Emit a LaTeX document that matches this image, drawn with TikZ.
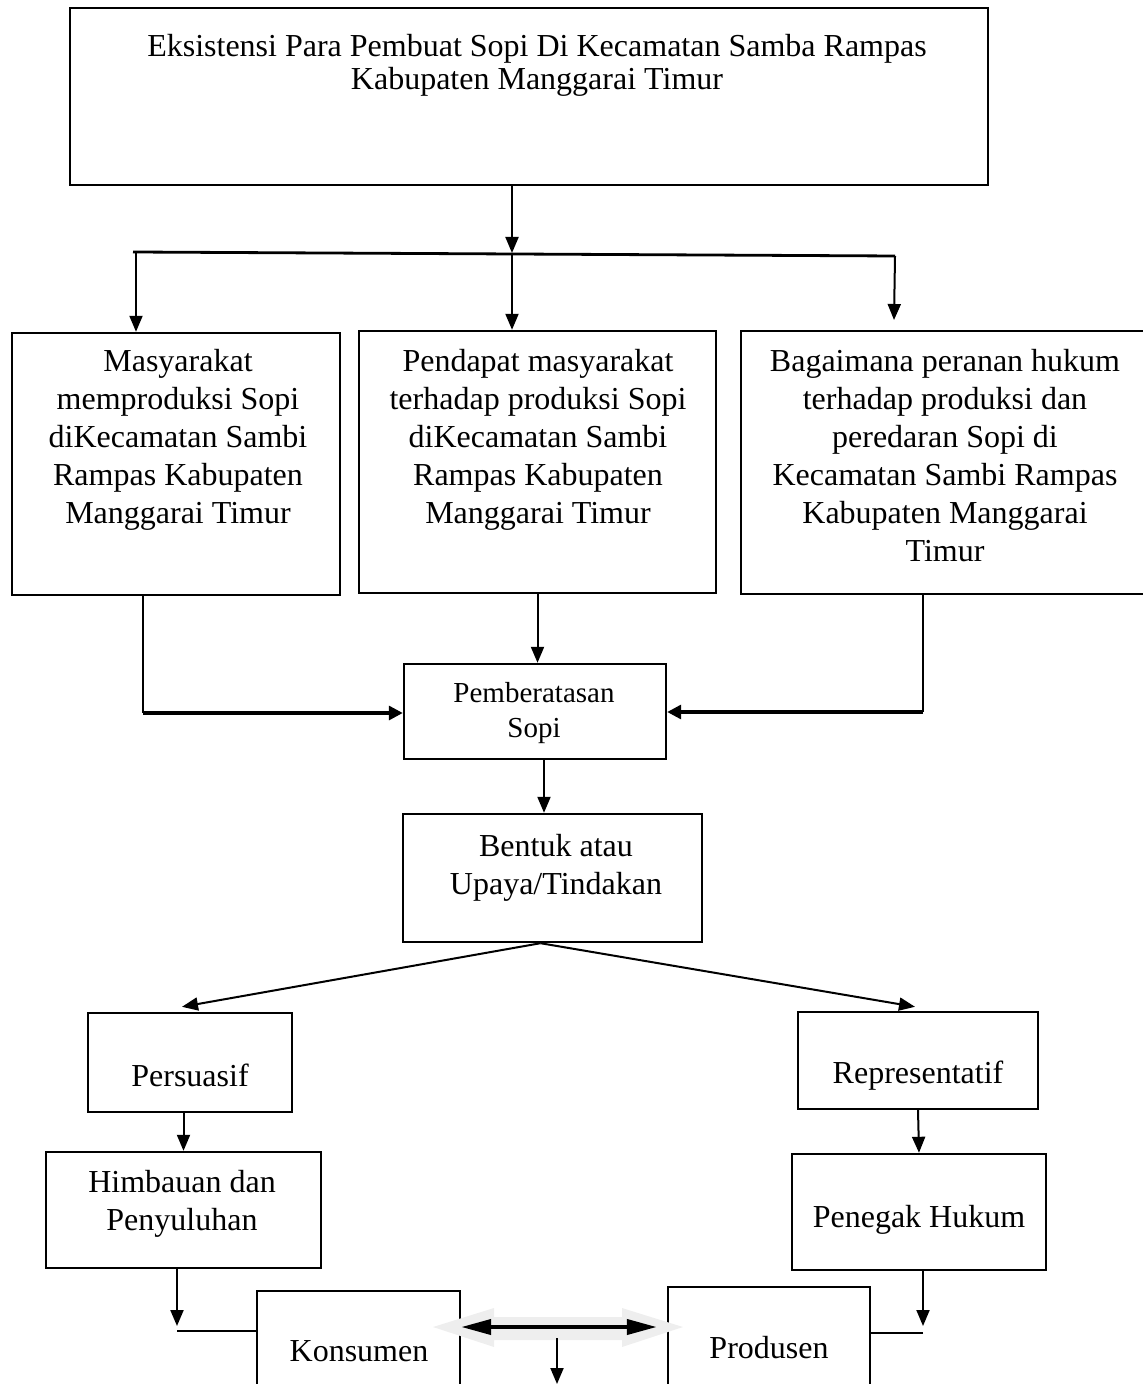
\documentclass[tikz,border=0pt]{standalone}
\usepackage{fontspec}
\setmainfont{Liberation Serif}
\usetikzlibrary{arrows.meta,calc}
\definecolor{halo}{HTML}{EEEEEE}
\begin{document}
\begin{tikzpicture}[x=0.5pt,y=-0.5pt,
  box/.style={draw, line width=1.2pt, rectangle, inner sep=0pt},
  txt/.style={font=\fontsize{16pt}{19pt}\selectfont, align=center, inner sep=0pt, anchor=north},
  arr/.style={line width=1pt, -{Triangle[length=8pt,width=6.5pt]}},
  arrb/.style={line width=1.6pt, -{Triangle[length=7pt,width=7pt]}},
  ln/.style={line width=1pt},
  dbl/.style={line width=2pt, {Triangle[length=15pt,width=7.5pt]}-{Triangle[length=15pt,width=7.5pt]}},
  ]
\useasboundingbox (0,0) rectangle (1143,1384);
\clip (0,0) rectangle (1143,1384);

% boxes
\node[box, minimum width=459pt, minimum height=88.5pt] (top) at (529,96.5) {};
\node[box, minimum width=164pt, minimum height=131pt] (b1) at (176,464) {};
\node[box, minimum width=178.5pt, minimum height=131pt] (b2) at (537.5,462) {};
\node[box, minimum width=214.5pt, minimum height=131.5pt] (b3) at (955.5,462.5) {};
\node[box, minimum width=131pt, minimum height=47.5pt] (pem) at (535,711.5) {};
\node[box, minimum width=149.5pt, minimum height=64pt] (bentuk) at (552.5,878) {};
\node[box, minimum width=102pt, minimum height=49.5pt] (pers) at (190,1062.5) {};
\node[box, minimum width=120pt, minimum height=48.5pt] (repr) at (918,1060.5) {};
\node[box, minimum width=137.5pt, minimum height=58pt] (himb) at (183.5,1210) {};
\node[box, minimum width=127pt, minimum height=58pt] (peneg) at (919,1212) {};
\node[box, minimum width=101.5pt, minimum height=64.5pt] (kons) at (358.5,1355.5) {};
\node[box, minimum width=101pt, minimum height=66.5pt] (prod) at (769,1353.5) {};

% texts
\node[txt, font=\fontsize{16pt}{16.5pt}\selectfont] (ttop) at (537,34) {Eksistensi Para Pembuat Sopi Di Kecamatan Samba Rampas\\Kabupaten Manggarai Timur};
\node[txt] (tb1) at (178,349) {Masyarakat\\memproduksi Sopi\\diKecamatan Sambi\\Rampas Kabupaten\\Manggarai Timur};
\node[txt] (tb2) at (538,349) {Pendapat masyarakat\\terhadap produksi Sopi\\diKecamatan Sambi\\Rampas Kabupaten\\Manggarai Timur};
\node[txt] (tb3) at (945,349) {Bagaimana peranan hukum\\terhadap produksi dan\\peredaran Sopi di\\Kecamatan Sambi Rampas\\Kabupaten Manggarai\\Timur};
\node[txt, font=\fontsize{14.5pt}{17.5pt}\selectfont] (tpem) at (534,682) {Pemberatasan\\Sopi};
\node[txt] (tbentuk) at (556,834) {Bentuk atau\\Upaya/Tindakan};
\node[txt] (tpers) at (190,1064) {Persuasif};
\node[txt] (trepr) at (918,1061) {Representatif};
\node[txt] (thimb) at (182,1170) {Himbauan dan\\Penyuluhan};
\node[txt] (tpeneg) at (919,1205) {Penegak Hukum};
\node[txt] (tkons) at (359,1340) {Konsumen};
\node[txt] (tprod) at (769,1336) {Produsen};

% junction coordinates
\coordinate (j0) at (512,253);
\coordinate (jl) at (133,252);
\coordinate (jr) at (895,256);
\coordinate (h1) at (136,252);
\coordinate (r3) at (894,320);
\coordinate (k1) at (143,713);
\coordinate (k3) at (923,712);
\coordinate (lt) at (177,1326);
\coordinate (ll) at (177,1331);
\coordinate (rt) at (923,1326);
\coordinate (rl) at (923,1333);
\coordinate (da) at (0,1327);
\coordinate (dn) at (557,1338);
\coordinate (dn2) at (557,1384);

% top connectors
\draw[arr] (top.south -| j0) -- (j0);
\draw[line width=1.4pt] (jl) -- (jr);
\draw[arr] (h1) -- (h1 |- b1.north);
\draw[arr] (j0) -- (j0 |- b2.north);
\draw[arr] (jr) -- (r3);

% to Pemberatasan
\draw[ln] (k1 |- b1.south) -- (k1);
\draw[arrb] (k1) -- (k1 -| pem.west);
\draw[arr] (b2.south) -- (b2.south |- pem.north);
\draw[ln] (k3 |- b3.south) -- (k3);
\draw[arrb] (k3) -- (k3 -| pem.east);

% down the middle
\draw[arr] ($(pem.south)+(9,0)$) -- ($(pem.south |- bentuk.north)+(9,0)$);
\draw[arr] ($(bentuk.south)+(-12,0)$) -- ($(pers.north)+(-8,-5)$);
\draw[arr] ($(bentuk.south)+(-12,0)$) -- ($(repr.north)+(-3,-4)$);
\draw[arr] (pers.south -| himb.north) -- (himb.north);
\draw[arr] (repr.south) -- (peneg.north);

% bottom
\draw[arr] (lt |- himb.south) -- (lt);
\draw[ln] (ll) -- (ll -| kons.west);
\draw[arr] (rt |- peneg.south) -- (rt);
\draw[ln] (rl) -- (rl -| prod.east);

\fill[halo] (433,1327) -- (494,1308) -- (494,1317) -- (622,1317) -- (622,1308)
  -- (683,1327) -- (622,1347) -- (622,1340) -- (494,1340) -- (494,1347) -- cycle;
\draw[dbl] (da -| kons.east) -- ($(da -| prod.west)+(-10,0)$);
\draw[arr] (dn) -- (dn2);
\end{tikzpicture}
\end{document}
